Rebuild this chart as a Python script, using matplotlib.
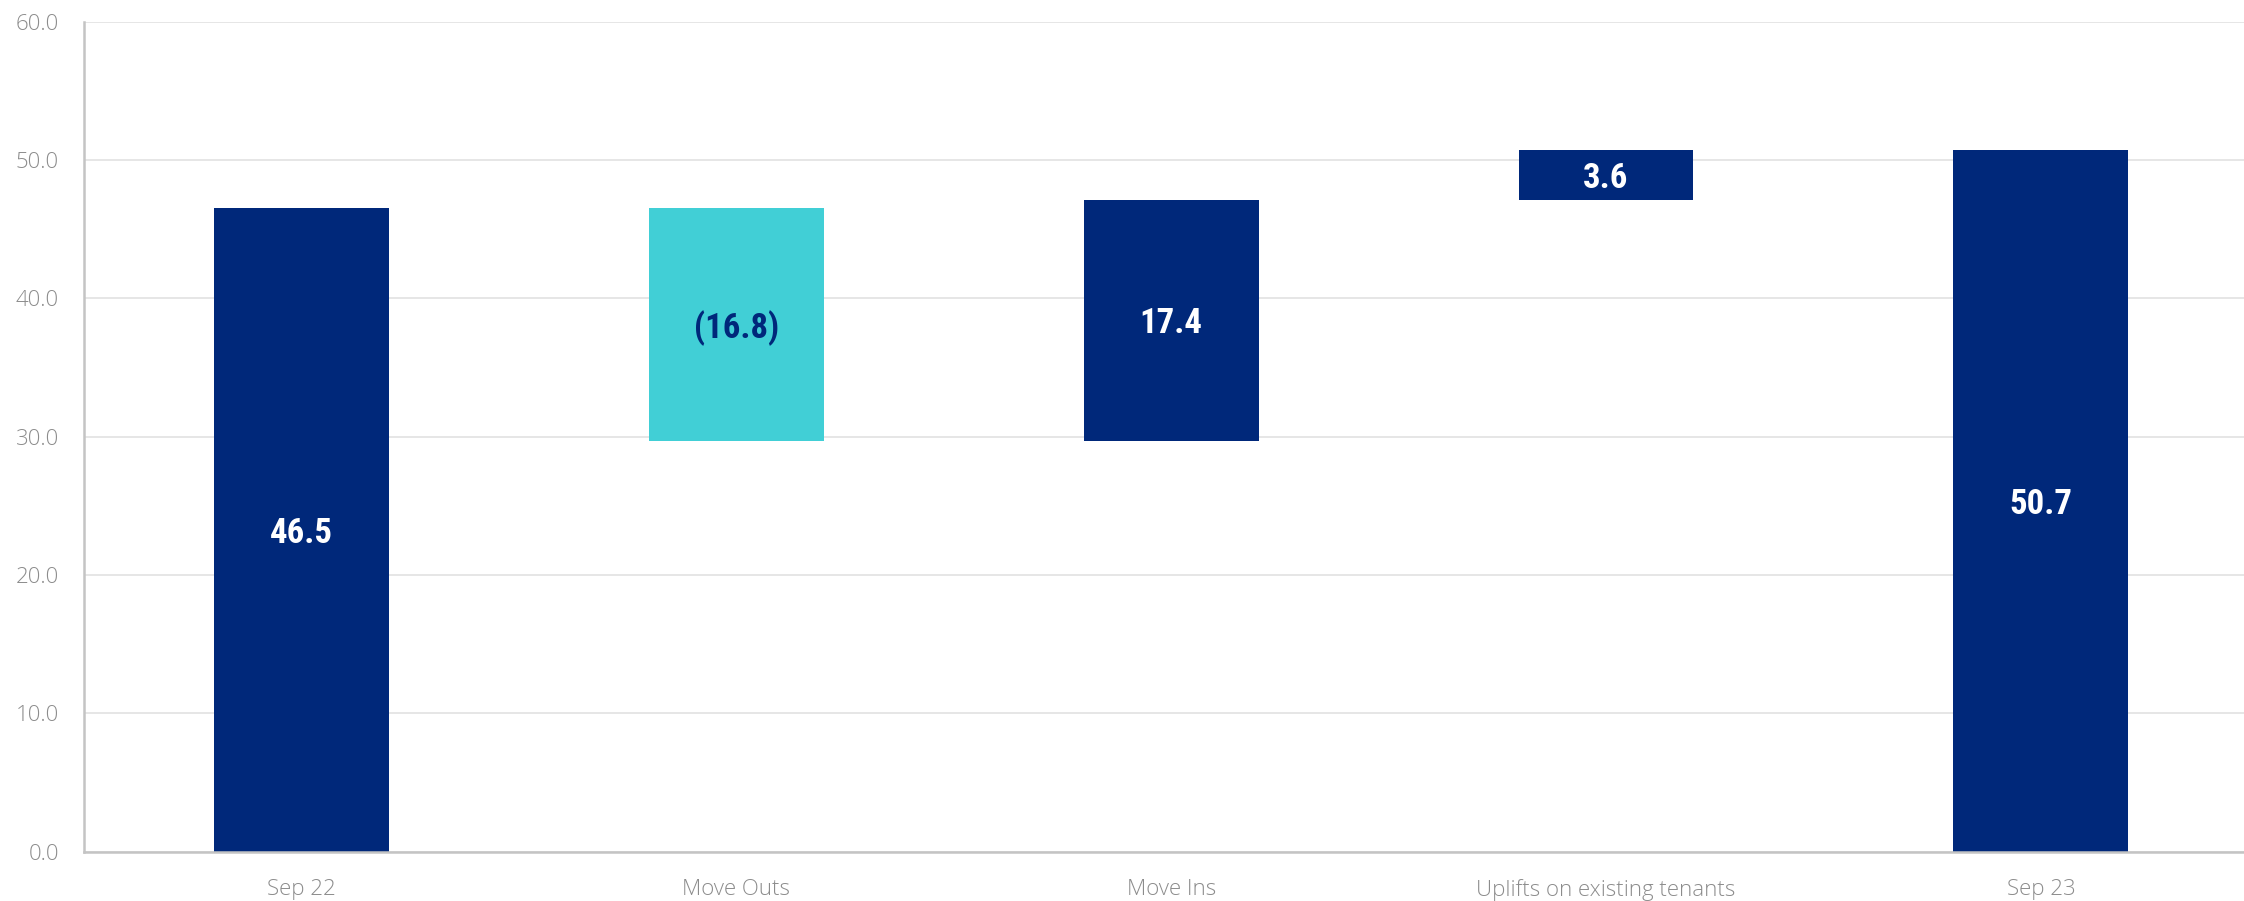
import matplotlib
matplotlib.use("Agg")
import matplotlib.pyplot as plt

categories = ["Sep 22", "Move Outs", "Move Ins", "Uplifts on existing tenants", "Sep 23"]
values = [46.5, -16.8, 17.4, 3.6, 50.7]
kinds = ["total", "delta", "delta", "delta", "total"]
labels = ["46.5", "(16.8)", "17.4", "3.6", "50.7"]
yticks = [0, 10, 20, 30, 40, 50, 60]

NAVY = "#00287A"
CYAN = "#41CFD6"

# compute waterfall bottoms/heights
bottoms, heights, colors, txtcol = [], [], [], []
running = 0.0
for v, k in zip(values, kinds):
    if k == "total":
        bottoms.append(0.0)
        heights.append(v)
        running = v
        colors.append(NAVY)
        txtcol.append("white")
    else:
        if v >= 0:
            bottoms.append(running)
            heights.append(v)
            colors.append(NAVY)
            txtcol.append("white")
        else:
            bottoms.append(running + v)
            heights.append(-v)
            colors.append(CYAN)
            txtcol.append(NAVY)
        running += v

fig = plt.figure(figsize=(22.44, 9.01), dpi=100)
ax = fig.add_axes([0.0374, 0.0548, 1 - 0.0374, 0.9761 - 0.0548])

x = list(range(len(categories)))
ax.bar(x, heights, bottom=bottoms, width=0.402, color=colors, zorder=3)

for xi, b, h, lab, tc in zip(x, bottoms, heights, labels, txtcol):
    ax.text(xi, b + h / 2, lab, ha="center", va="center_baseline", color=tc,
            fontsize=25, fontweight="bold",
            family=["Roboto Condensed", "Roboto", "DejaVu Sans"], zorder=4)

ax.set_xlim(-0.5, 4.467)
ax.set_ylim(0, 60)
ax.set_yticks(yticks)
ax.set_yticklabels([f"{t:.1f}" for t in yticks])
ax.set_xticks(x)
ax.set_xticklabels(categories)

for lab in ax.get_xticklabels() + ax.get_yticklabels():
    lab.set_fontfamily(["Open Sans", "Lato", "DejaVu Sans"])
    lab.set_fontweight("light")
    lab.set_fontsize(16)
    lab.set_color("#8c8c8c")

ax.tick_params(axis="y", length=0, pad=18)
ax.tick_params(axis="x", length=0, pad=20)

ax.grid(axis="y", color="#e4e4e4", linewidth=1.3, zorder=0)
ax.set_axisbelow(True)
for s in ["top", "right"]:
    ax.spines[s].set_visible(False)
for s in ["left", "bottom"]:
    ax.spines[s].set_color("#c4c4c4")
    ax.spines[s].set_linewidth(1.8)
    ax.spines[s].set_zorder(5)

fig.savefig("out.png", dpi=100)
